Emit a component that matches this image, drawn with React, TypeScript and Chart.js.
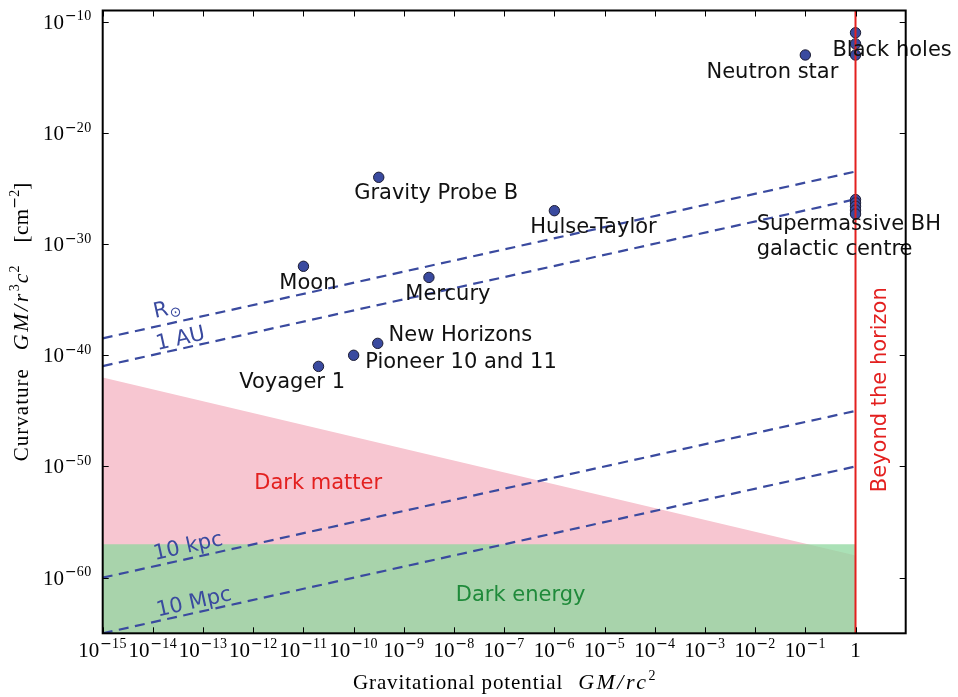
import React, { useEffect, useRef } from 'react';
import { Chart, registerables } from 'chart.js';

Chart.register(...registerables);

// ---------- data (all values are log10 exponents) ----------
const xMinExp = -15;
const xMaxExp = 1;
const yMinExp = -65;
const yMaxExp = -9;

const xTickExps = [-15, -14, -13, -12, -11, -10, -9, -8, -7, -6, -5, -4, -3, -2, -1, 0];
const yTickExps = [-10, -20, -30, -40, -50, -60];

// measured systems: gravitational potential GM/rc^2 and curvature GM/r^3c^2
const pointPotentialExp = [-11, -9.5, -8.5, -6, -9.52, -10, -10.7, -1, 0, 0, 0, 0, 0, 0, 0, 0];
const pointCurvatureExp = [-32, -24, -33, -27, -38.93, -40, -41, -13, -11, -12, -13, -26, -26.3, -26.6, -26.95, -27.3];

const labelTexts = ['Moon', 'Gravity Probe B', 'Mercury', 'Hulse-Taylor', 'New Horizons', 'Pioneer 10 and 11', 'Voyager 1', 'Neutron star', 'Black holes', 'Supermassive BH', 'galactic centre'];
const labelXExp = [-11.48, -9.99, -8.97, -6.48, -9.305, -9.77, -12.28, -2.97, -0.46, -1.97, -1.97];
const labelYExp = [-34.05, -25.99, -35.04, -28.99, -38.7, -41.18, -42.9, -15.03, -13.07, -28.75, -30.95];

// constant-radius lines (curvature at potential 1e-15 and at potential 1)
const lineNames = ['R', '1 AU', '10 kpc', '10 Mpc'];
const lineStartExp = [-38.48, -40.97, -60, -65];
const lineEndExp = [-23.48, -25.97, -45, -50];
const lineLabelXExp = [-13.96, -13.91, -13.96, -13.9];
const lineLabelYExp = [-36.66, -39.53, -58.4, -63.48];

// regions
const regionXExp = [-15, 0];
const darkMatterTopExp = [-42, -58];
const darkEnergyTopExp = -57;
const regionLabels = ['Dark matter', 'Dark energy'];
const regionLabelXExp = [-11.98, -7.965];
const regionLabelYExp = [-52.05, -62.08];

const horizonExp = 0;
const horizonLabel = 'Beyond the horizon';
const horizonLabelXExp = 0.6;
const horizonLabelYExp = -43.1;

// ---------- styles ----------
const BLUE = '#3A4A9F';
const RED = '#E3201F';
const PINK = '#F7C6D1';
const GREEN_FILL = 'rgba(142,215,158,0.75)';
const GREEN_TEXT = '#1F8A3A';
const SANS = "'DejaVu Sans'";
const SERIF = "'Liberation Serif'";

const P = (e: number) => Math.pow(10, e);

type Run = { t?: string; font?: string; dy?: number; ls?: number; gap?: number; color?: string };

function runsWidth(ctx: CanvasRenderingContext2D, runs: Run[]) {
  let w = 0;
  for (const r of runs) {
    if (r.gap) { w += r.gap; continue; }
    ctx.font = r.font!;
    (ctx as any).letterSpacing = (r.ls || 0) + 'px';
    w += ctx.measureText(r.t!).width;
  }
  (ctx as any).letterSpacing = '0px';
  return w;
}

function drawRuns(ctx: CanvasRenderingContext2D, runs: Run[], x: number, y: number, align: 'left' | 'center' | 'right', color: string) {
  const w = runsWidth(ctx, runs);
  let cx = align === 'left' ? x : align === 'center' ? x - w / 2 : x - w;
  ctx.textAlign = 'left';
  ctx.textBaseline = 'alphabetic';
  for (const r of runs) {
    if (r.gap) { cx += r.gap; continue; }
    ctx.font = r.font!;
    (ctx as any).letterSpacing = (r.ls || 0) + 'px';
    ctx.fillStyle = r.color || color;
    ctx.fillText(r.t!, cx, y + (r.dy || 0));
    cx += ctx.measureText(r.t!).width;
  }
  (ctx as any).letterSpacing = '0px';
}

function powRuns(e: number): Run[] {
  if (e === 0) return [{ t: '1', font: `21px ${SERIF}` }];
  return [
    { t: '10', font: `21px ${SERIF}` },
    { gap: 1 },
    { t: '\u2212', font: `14px ${SANS}`, dy: -8.3 },
    { t: String(-e), font: `14px ${SERIF}`, dy: -8.3, ls: 0.5 },
  ];
}

const decor = {
  id: 'decor',
  afterDatasetsDraw(chart: any) {
    const ctx: CanvasRenderingContext2D = chart.ctx;
    const xs = chart.scales.x;
    const ys = chart.scales.y;
    const px = (e: number) => xs.getPixelForValue(P(e));
    const py = (e: number) => ys.getPixelForValue(P(e));
    ctx.save();
    // point labels
    labelTexts.forEach((t, i) => {
      drawRuns(ctx, [{ t, font: `21px ${SANS}` }], px(labelXExp[i]), py(labelYExp[i]), 'left', '#111');
    });
    // region labels
    drawRuns(ctx, [{ t: regionLabels[0], font: `21px ${SANS}` }], px(regionLabelXExp[0]), py(regionLabelYExp[0]), 'left', RED);
    drawRuns(ctx, [{ t: regionLabels[1], font: `21px ${SANS}` }], px(regionLabelXExp[1]), py(regionLabelYExp[1]), 'left', GREEN_TEXT);
    // line labels, rotated along lines
    lineNames.forEach((name, i) => {
      const x0 = px(regionXExp[0]), y0 = py(lineStartExp[i]);
      const x1 = px(regionXExp[1]), y1 = py(lineEndExp[i]);
      const ang = Math.atan2(y1 - y0, x1 - x0);
      ctx.save();
      ctx.translate(px(lineLabelXExp[i]), py(lineLabelYExp[i]));
      ctx.rotate(ang);
      const runs: Run[] = i === 0
        ? [{ t: 'R', font: `21px ${SANS}` }, { gap: 1 }, { t: '\u2299', font: `14px ${SANS}`, dy: 3 }]
        : [{ t: name, font: `21px ${SANS}` }];
      drawRuns(ctx, runs, 0, 0, 'left', BLUE);
      ctx.restore();
    });
    // horizon label
    ctx.save();
    ctx.translate(px(horizonLabelXExp), py(horizonLabelYExp));
    ctx.rotate(-Math.PI / 2);
    drawRuns(ctx, [{ t: horizonLabel, font: `21px ${SANS}` }], 0, 0, 'center', RED);
    ctx.restore();
    ctx.restore();
  },
  afterDraw(chart: any) {
    const ctx: CanvasRenderingContext2D = chart.ctx;
    const a = chart.chartArea;
    const xs = chart.scales.x;
    const ys = chart.scales.y;
    ctx.save();
    // ticks
    ctx.strokeStyle = '#000';
    ctx.lineWidth = 1;
    ctx.beginPath();
    xTickExps.forEach((e) => {
      const x = Math.round(xs.getPixelForValue(P(e))) + 0.5;
      ctx.moveTo(x, a.bottom); ctx.lineTo(x, a.bottom - 6);
      ctx.moveTo(x, a.top); ctx.lineTo(x, a.top + 6);
    });
    yTickExps.forEach((e) => {
      const y = Math.round(ys.getPixelForValue(P(e))) + 0.5;
      ctx.moveTo(a.left, y); ctx.lineTo(a.left + 6, y);
      ctx.moveTo(a.right, y); ctx.lineTo(a.right - 6, y);
    });
    ctx.stroke();
    // spines
    ctx.lineWidth = 2;
    ctx.strokeRect(a.left, a.top, a.right - a.left, a.bottom - a.top);
    // tick labels
    xTickExps.forEach((e) => {
      drawRuns(ctx, powRuns(e), xs.getPixelForValue(P(e)), a.bottom + 23.4, 'center', '#000');
    });
    yTickExps.forEach((e) => {
      drawRuns(ctx, powRuns(e), a.left - 11, ys.getPixelForValue(P(e)) + 7, 'right', '#000');
    });
    // x title
    const xTitle: Run[] = [
      { t: 'Gravitational potential', font: `21px ${SERIF}`, ls: 0.9 },
      { gap: 15 },
      { t: 'GM/rc', font: `italic 22px ${SERIF}`, ls: 2.5 },
      { t: '2', font: `14px ${SERIF}`, dy: -9 },
    ];
    drawRuns(ctx, xTitle, (a.left + a.right) / 2, 689.3, 'center', '#000');
    // y title
    const yTitle: Run[] = [
      { t: 'Curvature', font: `21px ${SERIF}`, ls: 1 },
      { gap: 18 },
      { t: 'GM/r', font: `italic 22px ${SERIF}`, ls: 2.5 },
      { t: '3', font: `14px ${SERIF}`, dy: -9 },
      { gap: 1 },
      { t: 'c', font: `italic 22px ${SERIF}`, ls: 1 },
      { t: '2', font: `14px ${SERIF}`, dy: -9 },
      { gap: 23 },
      { t: '[cm', font: `21px ${SERIF}`, ls: 0.5 },
      { t: '\u2212', font: `14px ${SANS}`, dy: -9 },
      { t: '2', font: `14px ${SERIF}`, dy: -9 },
      { t: ']', font: `21px ${SERIF}` },
    ];
    ctx.save();
    ctx.translate(28.3, (a.top + a.bottom) / 2);
    ctx.rotate(-Math.PI / 2);
    drawRuns(ctx, yTitle, 0, 0, 'center', '#000');
    ctx.restore();
    ctx.restore();
  },
};

export default function App() {
  const ref = useRef<HTMLCanvasElement>(null);
  useEffect(() => {
    document.body.style.margin = '0';
    const canvas = ref.current!;
    const datasets: any[] = [];
    datasets.push({
      type: 'line',
      data: [{ x: P(horizonExp), y: P(yMinExp) }, { x: P(horizonExp), y: P(yMaxExp) }],
      borderColor: RED, borderWidth: 2, pointRadius: 0, fill: false, order: 0,
    });
    datasets.push({
      type: 'scatter',
      data: pointPotentialExp.map((x, i) => ({ x: P(x), y: P(pointCurvatureExp[i]) })),
      pointRadius: 5.2, pointBorderWidth: 1,
      backgroundColor: BLUE, borderColor: '#1c1c33',
      pointBackgroundColor: BLUE, pointBorderColor: '#1c1c33',
      order: 1,
    });
    lineStartExp.forEach((s, i) => {
      datasets.push({
        type: 'line',
        data: [{ x: P(regionXExp[0]), y: P(s) }, { x: P(regionXExp[1]), y: P(lineEndExp[i]) }],
        borderColor: BLUE, borderWidth: 2.2, borderDash: [10, 6.5], pointRadius: 0, fill: false, order: 2,
      });
    });
    datasets.push({
      type: 'line',
      data: regionXExp.map((x) => ({ x: P(x), y: P(darkEnergyTopExp) })),
      borderColor: 'transparent', borderWidth: 0, backgroundColor: GREEN_FILL,
      pointRadius: 0, fill: 'start', order: 3,
    });
    datasets.push({
      type: 'line',
      data: regionXExp.map((x, i) => ({ x: P(x), y: P(darkMatterTopExp[i]) })),
      borderColor: 'transparent', borderWidth: 0, backgroundColor: PINK,
      pointRadius: 0, fill: 'start', order: 4,
    });

    const chart = new Chart(canvas, {
      type: 'scatter',
      data: { datasets },
      options: {
        animation: false,
        responsive: false,
        devicePixelRatio: 1,
        events: [],
        layout: { padding: { left: 102.7, right: 52.3, top: 10.5, bottom: 63.7 } },
        plugins: { legend: { display: false }, tooltip: { enabled: false } },
        scales: {
          x: { type: 'logarithmic', display: false, min: P(xMinExp), max: P(xMaxExp) },
          y: { type: 'logarithmic', display: false, min: P(yMinExp), max: P(yMaxExp) },
        },
      } as any,
      plugins: [decor as any],
    });
    return () => chart.destroy();
  }, []);
  return (
    <div style={{ position: 'fixed', left: 0, top: 0, width: 958, height: 697, background: '#fff' }}>
      <canvas ref={ref} width={958} height={697} style={{ width: 958, height: 697, display: 'block' }} />
    </div>
  );
}
